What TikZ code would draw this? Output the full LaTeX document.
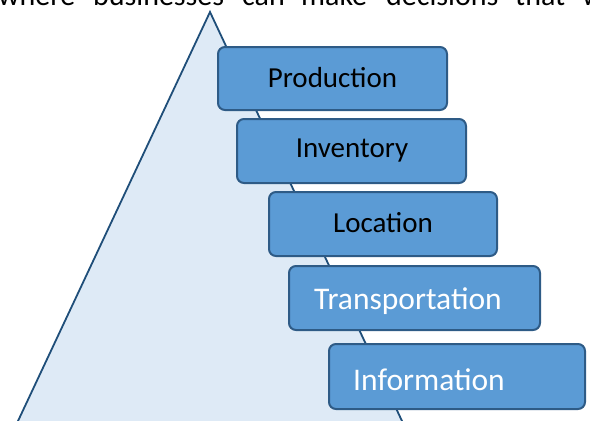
\documentclass[tikz,border=0pt]{standalone}
\usepackage{fontspec}
\setmainfont{Carlito}
\definecolor{boxfill}{HTML}{5B9BD5}
\definecolor{boxline}{HTML}{2E5B86}
\definecolor{trifill}{HTML}{DEEAF6}
\definecolor{triline}{HTML}{1F4E79}
\tikzset{
  stepbox/.style={draw=boxline, fill=boxfill, line width=2pt, rounded corners=7pt, inner sep=0pt, outer sep=0pt},
  blacktext/.style={font=\fontsize{29}{34}\selectfont, text=black},
  whitetext/.style={font=\fontsize{31.5}{36}\selectfont, text=white},
  toptext/.style={font=\fontsize{30}{36}\selectfont, text=black, inner sep=0pt, anchor=base west},
}
\begin{document}
\begin{tikzpicture}[x=1pt,y=-1pt]
\useasboundingbox (0,0) rectangle (590,421);
\begin{scope}
\clip (0,0) rectangle (590,421);
% top line of body text (cut off)
\node[toptext] (w1) at (-2,5) {where};
\node[toptext] (w2) at (93,5) {businesses};
\node[toptext] (w3) at (242,5) {can};
\node[toptext] (w4) at (301,5) {make};
\node[toptext] (w5) at (386,5) {decisions};
\node[toptext] (w6) at (515,5) {that};
\node[toptext] (w7) at (582,5) {will};
% triangle
\coordinate (apex) at (210,12);
\coordinate (bl) at (-5,470);
\coordinate (br) at (425,470);
\draw[fill=trifill, draw=triline, line width=1.8pt, line join=miter] (apex) -- (bl) -- (br) -- cycle;
\end{scope}
% boxes
\node[stepbox, minimum width=229pt, minimum height=63pt] (bprod) at (332.5,78.5) {};
\node[blacktext] (prod) at (332.5,78) {Production};
\node[stepbox, minimum width=229pt, minimum height=64pt] (binv) at (351.5,151) {};
\node[blacktext] (inv) at (352,151) {Inventory};
\node[stepbox, minimum width=228pt, minimum height=64pt] (bloc) at (383,224) {};
\node[blacktext] (loc) at (383,223) {Location};
\node[stepbox, minimum width=251pt, minimum height=64pt] (btrans) at (414.5,298) {};
\node[whitetext] (trans) at (408,301) {Transportation};
\node[stepbox, minimum width=256pt, minimum height=65pt] (binfo) at (457,376.5) {};
\node[whitetext] (info) at (429,380) {Information};
\end{tikzpicture}
\end{document}
